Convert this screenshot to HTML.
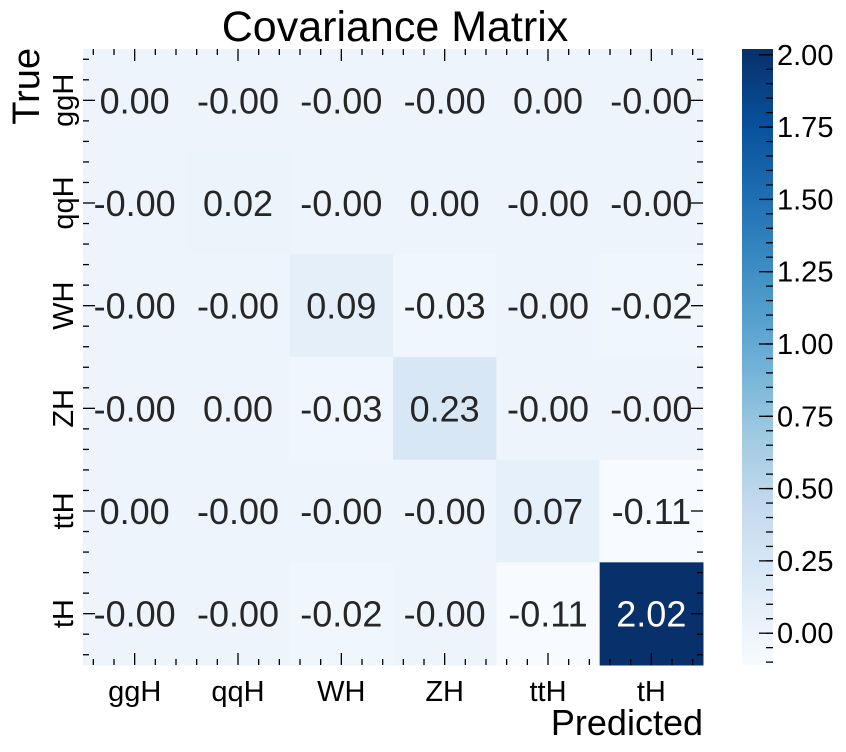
<!DOCTYPE html>
<html><head><meta charset="utf-8"><style>
html,body{margin:0;padding:0;background:#fff;}
svg{display:block;font-family:"Liberation Sans",Arial,sans-serif;}
</style></head><body>
<svg id="chart" width="846" height="752" viewBox="0 0 846 752" xmlns="http://www.w3.org/2000/svg">
<text x="395" y="41" font-size="43" text-anchor="middle" fill="#000">Covariance Matrix</text>
<text transform="translate(39,48) rotate(-90)" font-size="38" text-anchor="end" fill="#000">True</text>
<text x="703" y="735" font-size="36" text-anchor="end" fill="#000">Predicted</text>
<g id="cells"></g>
<g id="ticks"></g>
<g id="cbar"></g>
</svg>
<script>
const xCats = ["ggH","qqH","WH","ZH","ttH","tH"];
const yCats = ["ggH","qqH","WH","ZH","ttH","tH"];
const rowGgH = [0.00,-0.00,-0.00,-0.00,0.00,-0.00];
const rowQqH = [-0.00,0.02,-0.00,0.00,-0.00,-0.00];
const rowWH = [-0.00,-0.00,0.09,-0.03,-0.00,-0.02];
const rowZH = [-0.00,0.00,-0.03,0.23,-0.00,-0.00];
const rowTtH = [0.00,-0.00,-0.00,-0.00,0.07,-0.11];
const rowTH = [-0.00,-0.00,-0.02,-0.00,-0.11,2.02];
const rowLabels = [["0.00","-0.00","-0.00","-0.00","0.00","-0.00"],["-0.00","0.02","-0.00","0.00","-0.00","-0.00"],["-0.00","-0.00","0.09","-0.03","-0.00","-0.02"],["-0.00","0.00","-0.03","0.23","-0.00","-0.00"],["0.00","-0.00","-0.00","-0.00","0.07","-0.11"],["-0.00","-0.00","-0.02","-0.00","-0.11","2.02"]];
const cbarTicks = [0.00,0.25,0.50,0.75,1.00,1.25,1.50,1.75,2.00];
const vmin = -0.11, vmax = 2.02;

const NS="http://www.w3.org/2000/svg";
const rows=[rowGgH,rowQqH,rowWH,rowZH,rowTtH,rowTH];
const L=83,T=49,R=703,B=665;
const cw=(R-L)/xCats.length, ch=(B-T)/yCats.length;
const xs=i=>L+i*cw, ys=j=>T+j*ch;
const stops=["#f7fbff","#deebf7","#c6dbef","#9ecae1","#6baed6","#4292c6","#2171b5","#08519c","#08306b"].map(h=>[parseInt(h.slice(1,3),16),parseInt(h.slice(3,5),16),parseInt(h.slice(5,7),16)]);
function cmap(v){let t=(v-vmin)/(vmax-vmin);t=Math.max(0,Math.min(1,t))*8;const i=Math.min(7,Math.floor(t)),f=t-i;const c=stops[i].map((a,k)=>Math.round(a+(stops[i+1][k]-a)*f));return `rgb(${c})`;}
function mk(tag,attrs,parent){const e=document.createElementNS(NS,tag);for(const k in attrs)e.setAttribute(k,attrs[k]);parent.appendChild(e);return e;}
const cells=document.getElementById('cells');
rows.forEach((row,j)=>row.forEach((v,i)=>{
  const r=mk('rect',{x:xs(i),y:ys(j),width:cw+0.5,height:ch+0.5,fill:cmap(v)},cells);
  
  
  const t=mk('text',{x:xs(i)+cw/2,y:ys(j)+ch/2+13,'font-size':36,'text-anchor':'middle',fill:(v-vmin)/(vmax-vmin)>0.5?'#fff':'#262626'},cells);
  t.textContent=rowLabels[j][i];
  
  
}));
const tk=document.getElementById('ticks');
function line(x1,y1,x2,y2,p){mk('line',{x1,y1,x2,y2,stroke:'#000','stroke-width':1.3},p);}
xCats.forEach((c,i)=>{
  const cx=xs(i)+cw/2;
  line(cx,B,cx,B-12,tk);line(cx,T,cx,T+12,tk);
  for(let k=-2;k<=2;k++){if(!k)continue;const m=cx+k*cw/5;line(m,B,m,B-6,tk);line(m,T,m,T+6,tk);}
  const t=mk('text',{x:cx,y:B+36,'font-size':29,'text-anchor':'middle',fill:'#000'},tk);
  t.textContent=c;
  
  
});
yCats.forEach((c,j)=>{
  const cy=ys(j)+ch/2;
  line(L,cy,L+12,cy,tk);line(R,cy,R-12,cy,tk);
  for(let k=-2;k<=2;k++){if(!k)continue;const m=cy+k*ch/5;line(L,m,L+6,m,tk);line(R,m,R-6,m,tk);}
  const t=mk('text',{transform:`translate(73,${cy}) rotate(-90)`,'font-size':29,'text-anchor':'middle',fill:'#000'},tk);
  t.textContent=c;
  
  
});
const cb=document.getElementById('cbar');
const CX=742,CW=31,CT=49,CB=665;
const cy=v=>CB-(v-vmin)/(vmax-vmin)*(CB-CT);
const defs=mk('defs',{},cb);
const g=mk('linearGradient',{id:'gr',x1:0,y1:1,x2:0,y2:0},defs);
stops.forEach((s,i)=>mk('stop',{offset:i/8,'stop-color':`rgb(${s})`},g));
const cr=mk('rect',{x:CX,y:CT,width:CW,height:CB-CT,fill:'url(#gr)'},cb);


for(let v=-0.10;v<=2.02;v+=0.05){const y=cy(v);line(CX+CW,y,CX+CW-7,y,cb);}
cbarTicks.forEach(v=>{
  const y=cy(v);line(CX+CW,y,CX+CW-14,y,cb);
  const t=mk('text',{x:CX+CW+4,y:y+10,'font-size':29,fill:'#000'},cb);
  t.textContent=v.toFixed(2);
  
  
});
</script>
</body></html>
